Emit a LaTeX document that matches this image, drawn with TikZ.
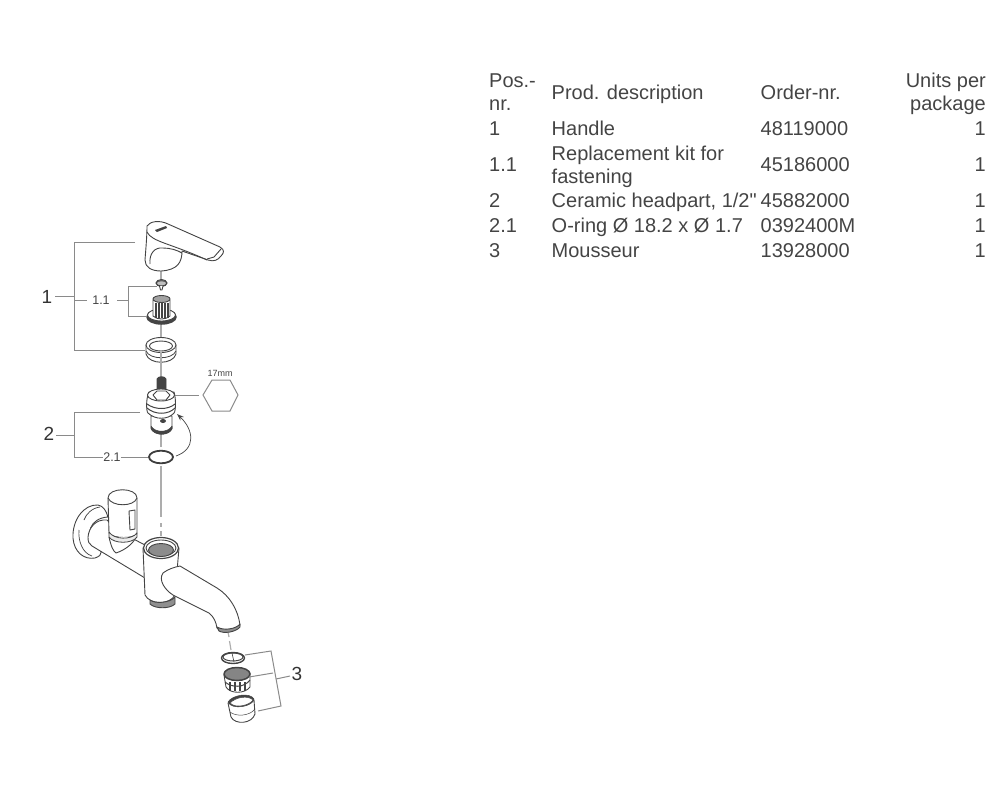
\documentclass[tikz,border=0pt]{standalone}
\usepackage{fontspec}
\setmainfont{Liberation Sans}
\newfontfamily\plainsans{Liberation Sans}
\usetikzlibrary{arrows.meta}
\definecolor{txt}{HTML}{444444}
\definecolor{ln}{HTML}{8A8A8A}
\definecolor{ink}{HTML}{444444}
\definecolor{shade}{HTML}{8C8C8C}
\tikzset{
 cell/.style={font=\fontsize{20}{23}\selectfont,text=txt,inner sep=0pt,anchor=base west,align=left},
 cellr/.style={font=\fontsize{20}{23}\selectfont,text=txt,inner sep=0pt,anchor=base east,align=right},
 lead/.style={draw=ln,line width=1pt},
 axis/.style={draw=ln!70,line width=1.2pt},
 part/.style={draw=ink,line width=0.9pt,fill=white,line join=round},
 thick part/.style={draw=ink!90!black,line width=1.8pt,fill=white},
 callout/.style={font=\fontsize{19}{20}\selectfont,text=black!80,inner sep=0pt},
 small callout/.style={font=\fontsize{12.5}{14}\selectfont,text=txt,inner sep=0pt},
}
\begin{document}
\begin{tikzpicture}[x=1pt,y=-1pt]
\useasboundingbox (0,0) rectangle (1000,800);
% table
\node[cell] (h1) at (489,110) {Pos.-\\nr.};
\node[cell] (h2) at (551.5,99) {Prod. description};
\node[cell] (h3) at (760.5,99) {Order-nr.};
\node[cellr] (h4) at (986,110) {Units per\\package};
\node[cell] at (489,135) (a1) {1};
\node[cell] at (551.5,135) (a2) {Handle};
\node[cell] at (760.5,135) (a3) {48119000};
\node[cellr] at (986,135) (a4) {1};
\node[cell] at (489,171.5) (b1) {1.1};
\node[cell] at (551.5,183) (b2) {Replacement kit for\\fastening};
\node[cell] at (760.5,171.5) (b3) {45186000};
\node[cellr] at (986,171.5) (b4) {1};
\node[cell] at (489,207.5) (c1) {2};
\node[cell] at (551.5,207.5) (c2) {{\plainsans Ceramic headpart, 1/2"}};
\node[cell] at (760.5,207.5) (c3) {45882000};
\node[cellr] at (986,207.5) (c4) {1};
\node[cell] at (489,232.5) (d1) {2.1};
\node[cell] at (551.5,232.5) (d2) {O-ring Ø 18.2 x Ø 1.7};
\node[cell] at (760.5,232.5) (d3) {0392400M};
\node[cellr] at (986,232.5) (d4) {1};
\node[cell] at (489,257.5) (e1) {3};
\node[cell] at (551.5,257.5) (e2) {Mousseur};
\node[cell] at (760.5,257.5) (e3) {13928000};
\node[cellr] at (986,257.5) (e4) {1};
% axes
\draw[axis] (161,270) -- (161,280);
\draw[axis] (161,322) -- (161,340);
\draw[axis] (161,360) -- (161,378);
\draw[axis] (161,432) -- (161,447);
\draw[axis] (161,466) -- (161,517);
\draw[axis] (161,523) -- (161,527);
\draw[axis] (161,531) -- (161,536);
\draw[axis] (228,632) -- (229,637);
\draw[axis] (229.5,641) -- (231,650);
% handle
\draw[part] (147,226) .. controls (150,221) and (160,220) .. (168,224) -- (220,247) .. controls (225,250) and (224,253) .. (221,256) .. controls (218,260) and (214,262) .. (208,260) -- (182,251) .. controls (182,262) and (178,270) .. (161,271) .. controls (151,271) and (145,267) .. (145,260) .. controls (146,247) and (147,235) .. (147,226) -- cycle;
\draw[part,fill=none] (147,232) .. controls (152,242) and (170,243) .. (207,260);
\draw[part,fill=none] (221,249) -- (214,257) -- (207,259);
\draw[part,fill=none] (150,264) .. controls (149,253) and (155,247) .. (163,248) .. controls (170,248) and (177,250) .. (182,253);
\draw[fill=ink,draw=none] (155,230) -- (166,226) -- (167,228) -- (157,232) -- cycle;
% screw
\draw[part,fill=black!40] (161.5,283) ellipse (5.5 and 3.5);
\draw[part,fill=black!25] (156,283) .. controls (157,287) and (166,287) .. (167,283) .. controls (166,280) and (157,280) .. (156,283);
\draw[part] (159.5,286) -- (160.5,290) -- (162,290) -- (163,286);
% kit
\draw[part,line width=1.5pt,fill=ink] (161.5,317) ellipse (14.5 and 7);
\draw[part,fill=white] (161.5,315) ellipse (14 and 6);
\draw[part] (153,300) -- (153,316) .. controls (157,320) and (166,320) .. (170,316) -- (170,300) -- cycle;
\foreach \x in {156,159,162,165,168} \draw[ink,line width=1.1pt] (\x,303) -- (\x,318);
\draw[part,fill=ink!50] (161.5,299) ellipse (8.5 and 3.5);
% ring 1
\draw[part] (146,345) -- (146,354) .. controls (149,365) and (173,365) .. (176,354) -- (176,345) -- cycle;
\draw[part] (161,345) ellipse (15 and 7.5);
\draw[part] (161,346) ellipse (11.5 and 5);
\draw[ink,line width=0.8pt] (146,351) .. controls (150,360) and (172,360) .. (176,351);
\draw[axis] (161,351.5) -- (161,364);
% headpart
\draw[part,fill=ink] (157,379) -- (157,393) -- (166,393) -- (166,379) .. controls (165,376) and (158,376) .. (157,379) -- cycle;
\draw[part] (151,416) -- (151,428) .. controls (154,436) and (170,436) .. (172,428) -- (172,416) -- cycle;
\draw[part,fill=ink,line width=0.5pt] (151,429) .. controls (155,436) and (168,436) .. (172,429) -- (172,426) .. controls (168,433) and (155,433) .. (151,426) -- cycle;
\draw[part] (149,392) .. controls (146,398) and (146,411) .. (148,413) .. controls (155,420) and (168,420) .. (174,413) .. controls (176,411) and (176,398) .. (174,392) -- cycle;
\draw[ink,line width=1pt] (147,404) .. controls (155,410) and (168,410) .. (175,404);
\draw[ink,line width=1pt] (147,408) .. controls (155,415) and (168,415) .. (175,408);
\draw[part] (161,395) ellipse (13.5 and 6);
\draw[part] (153,395) -- (157,391) -- (166,391) -- (170,395) -- (166,400) -- (157,400) -- cycle;
\fill[ink] (163,421) ellipse (3 and 2);
% o-ring
\draw[thick part,fill=none] (161,457) ellipse (12 and 6.3);
% arrow
\draw[ink,line width=0.7pt,-{Stealth[length=7pt,width=5pt]}] (176,456) .. controls (196,449) and (194,430) .. (177,414);
% hex
\node[small callout,font=\fontsize{9}{10}\selectfont] (hexlab) at (220,373) {17mm};
\draw[ln,line width=1pt] (203,395) -- (212,380) -- (230,380) -- (238,395) -- (230,411) -- (212,411) -- cycle;
\coordinate (hexl) at (199,395);
\coordinate (hexr) at (175,395);
\draw[lead] (hexr) -- (hexl);
% faucet
\draw[part] (98,505) .. controls (84,504) and (72,520) .. (73,538) .. controls (74,552) and (84,560) .. (95,558) .. controls (104,555) and (102,550) .. (96,545) .. controls (84,535) and (90,518) .. (108,517) .. controls (106,510) and (103,506) .. (98,505) -- cycle;
\draw[ink,line width=0.7pt] (79,530) .. controls (78,540) and (82,553) .. (92,556);
\draw[ink,line width=0.7pt] (84,520) .. controls (86,514) and (92,508) .. (100,507);
\draw[part,fill=white] (88,537) .. controls (88,542) and (89,544) .. (92,546) -- (145,578) -- (145,545) -- (120,532) -- (107,520) .. controls (96,519) and (89,527) .. (88,537) -- cycle;
\draw[part] (108,498) .. controls (108,487) and (137,487) .. (137,498) -- (137,533) .. controls (136,539) and (112,539) .. (109,533) -- cycle;
\draw[part] (108,498) .. controls (112,507) and (134,507) .. (137,498);
\draw[part] (109,537) .. controls (111,546) and (113,551) .. (116,553) .. controls (125,550) and (133,544) .. (136,537);
\draw[part,fill=black!8,line width=0.8pt] (109,532) .. controls (114,540) and (132,540) .. (137,533) -- (137,537) .. controls (132,544) and (114,544) .. (109,537) -- cycle;
\draw[part,fill=white] (129,511) -- (135,510) -- (135,529) -- (130,530) -- cycle;
\draw[part] (143,548) -- (145,595) .. controls (150,605) and (170,605) .. (175,595) -- (179,548) -- cycle;
\draw[part,fill=ink!60] (150,600) -- (150,604) .. controls (155,609) and (170,609) .. (175,604) -- (175,597) .. controls (170,603) and (155,604) .. (150,600) -- cycle;
\draw[part,line width=1.2pt] (161,548) ellipse (17.5 and 10.5);
\draw[part] (161,548) ellipse (15 and 8);
\draw[part,fill=shade] (161,550) ellipse (12.5 and 6.5);
\draw[part] (180,566) -- (217,588) .. controls (230,596) and (238,610) .. (240,625) .. controls (236,631) and (224,632) .. (217,628) .. controls (216,622) and (214,617) .. (209,613) -- (173,595) .. controls (165,590) and (158,580) .. (163,573) .. controls (168,569) and (175,567) .. (180,566) -- cycle;
\draw[part,fill=ink!60] (217,627) -- (219,631) .. controls (224,634) and (236,632) .. (240,627) -- (240,624) .. controls (236,629) and (224,631) .. (217,627) -- cycle;
% aerator
\draw[part,line width=1.4pt,fill=none] (233,658) ellipse (11.5 and 5.5);
\draw[part,line width=1pt,fill=none] (233,657) ellipse (10 and 4);
\draw[ink,line width=0.6pt] (232,653) -- (234,662);
\draw[part] (224,675) -- (226,687) .. controls (230,694) and (245,694) .. (250,687) -- (250,673) -- cycle;
\foreach \x in {230,235,240,245} \draw[ink,line width=1.2pt] (\x,682) -- (\x,691);
\draw[ink,line width=1pt] (225,682) .. controls (232,688) and (244,688) .. (250,680);
\draw[part,line width=1.5pt,fill=ink!65] (237,674) ellipse (13 and 6.5);
\draw[part] (228,703) -- (231,717) .. controls (235,725) and (252,724) .. (255,714) -- (254,700) -- cycle;
\draw[part,fill=ink,line width=0.5pt] (228,702) .. controls (232,695) and (250,692) .. (254,699) .. controls (254,706) and (232,711) .. (228,702) -- cycle;
\draw[part,fill=white,line width=0.5pt] (230,703) .. controls (236,697) and (248,695) .. (253,700) .. controls (250,705) and (236,709) .. (230,703) -- cycle;
\draw[ink,line width=0.5pt] (230,712) .. controls (236,717) and (250,716) .. (255,709);
% callouts
\node[callout] (n1) at (47,297) {1};
\node[small callout] (n11) at (101,300) {1.1};
\node[callout] (n2) at (49,434) {2};
\node[small callout] (n21) at (112,457) {2.1};
\node[callout] (n3) at (297,674) {3};
% coordinates
\coordinate (h) at (135,242);
\coordinate (rg) at (145,350);
\coordinate (scr) at (157,286);
\coordinate (kit) at (147,316);
\coordinate (hp) at (140,412);
\coordinate (or) at (148,457);
\coordinate (ar1) at (245,655);
\coordinate (ar2) at (249,677);
\coordinate (ar3) at (258,711);
\draw[lead] (h) -| (74,350) -- (rg);
\draw[lead] (55,296) -- (74,296);
\draw[lead] (75,300) -- (87,300);
\draw[lead] (117,300) -- (128,300);
\draw[lead] (scr) -| (128,316) -- (kit);
\draw[lead] (hp) -| (74,457) -- (n21.west);
\draw[lead] (56,435) -- (74,435);
\draw[lead] (n21.east) -- (or);
\draw[lead] (ar1) -- (271,651) -- (281,706) -- (ar3);
\draw[lead] (ar2) -- (273,673);
\draw[lead] (276,679) -- (290,676);
\end{tikzpicture}
\end{document}
